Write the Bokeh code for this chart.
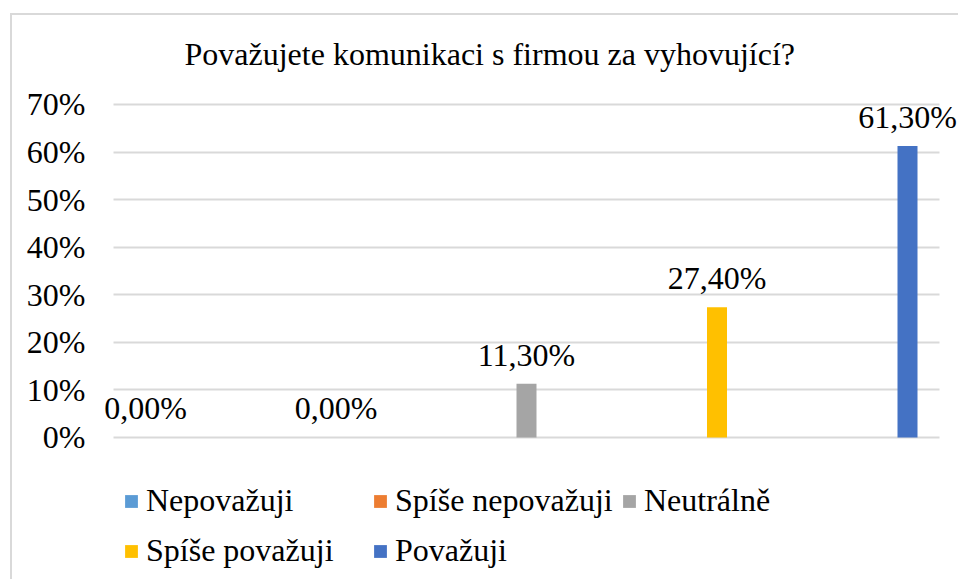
from bokeh.plotting import figure
from bokeh.models import (Range1d, FixedTicker, PrintfTickFormatter, Legend, LegendItem,
                          ColumnDataSource, LabelSet, InlineStyleSheet)
from bokeh.embed import file_html
from bokeh.resources import INLINE

# ---- data ----
categories = ["Nepovažuji", "Spíše nepovažuji", "Neutrálně", "Spíše považuji", "Považuji"]
values = [0.0, 0.0, 11.3, 27.4, 61.3]          # percent
colors = ["#5B9BD5", "#ED7D31", "#A5A5A5", "#FFC000", "#4472C4"]
y_ticks = [0, 10, 20, 30, 40, 50, 60, 70]
title_text = "Považujete komunikaci s firmou za vyhovující?"

FONT = "Liberation Serif, Times New Roman, serif"
FS = "32px"
xpos = list(range(len(categories)))
labels = [f"{v:.2f}%".replace(".", ",") for v in values]

border_css = InlineStyleSheet(css="""
:host { position: relative; }
:host::after {
  content: ""; position: absolute; left: 10px; top: 13px; right: 0; bottom: 0;
  border-top: 2px solid #D9D9D9; border-left: 2px solid #D9D9D9;
  pointer-events: none; z-index: 1000;
}
""")

p = figure(width=958, height=579, output_backend="svg", toolbar_location=None,
           x_range=Range1d(-0.2362, 4.2677), y_range=Range1d(-29.85, 70.42),
           x_axis_location=None, min_border_left=100, min_border_right=0,
           min_border_top=102, min_border_bottom=0, stylesheets=[border_css])
p.outline_line_color = None
p.background_fill_color = "white"
p.border_fill_color = "white"

# title
p.title.text = title_text
p.title.text_font = FONT
p.title.text_font_size = FS
p.title.text_font_style = "normal"
p.title.text_color = "black"
p.title.align = "left"
p.title.offset = 84
p.title.standoff = 61

# y axis
yax = p.yaxis[0]
yax.ticker = FixedTicker(ticks=y_ticks)
yax.formatter = PrintfTickFormatter(format="%d%%")
yax.axis_line_color = None
yax.major_tick_line_color = None
yax.minor_tick_line_color = None
yax.major_tick_out = 0
yax.major_tick_in = 0
yax.minor_tick_out = 0
yax.major_label_text_font = FONT
yax.major_label_text_font_size = FS
yax.major_label_text_color = "black"
yax.major_label_standoff = 15
p.xgrid.visible = False
g = p.ygrid[0]
g.ticker = FixedTicker(ticks=y_ticks)
g.grid_line_color = "#D9D9D9"
g.grid_line_width = 2
g.cross_bounds = (-0.168, 4.168)

# bars
items = []
for i, cat in enumerate(categories):
    r = p.vbar(x=[xpos[i]], top=[values[i]], bottom=0, width=0.105,
               fill_color=colors[i], line_color=None)
    items.append(LegendItem(label=cat, renderers=[r]))

# data labels
src = ColumnDataSource(dict(x=xpos, y=values, t=labels))
p.add_layout(LabelSet(x="x", y="y", text="t", source=src, text_font=FONT,
                      text_font_size=FS, text_color="black", text_align="center",
                      text_baseline="alphabetic", y_offset=18))

# legend
legend = Legend(items=items, location=(23, 6), orientation="horizontal", ncols=3,
                glyph_width=16, glyph_height=16, label_standoff=7,
                label_width=221, label_height=45, spacing=5, padding=0, margin=0,
                label_text_font=FONT, label_text_font_size=FS, label_text_color="black",
                border_line_color=None, background_fill_alpha=0)
p.add_layout(legend, "center")

open("out.html", "w").write(file_html(p, INLINE))
